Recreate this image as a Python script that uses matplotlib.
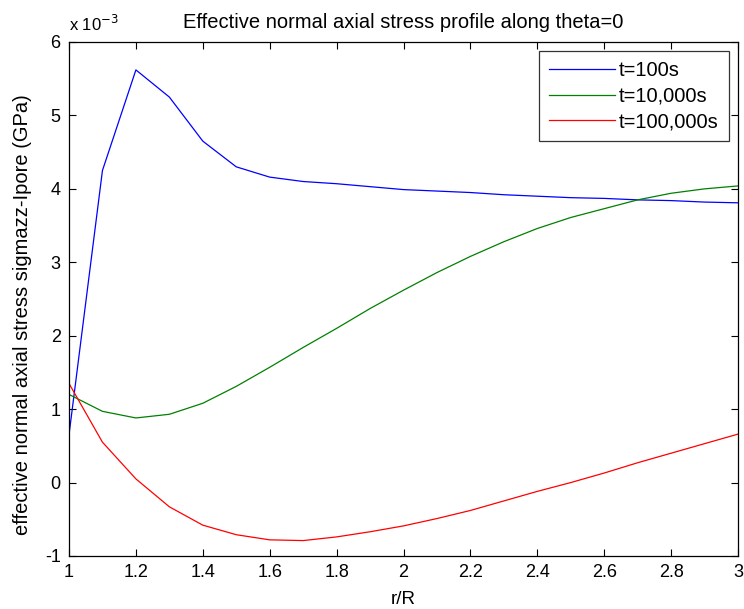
import matplotlib
matplotlib.use("Agg")
import matplotlib.pyplot as plt
import numpy as np

# r/R sampled every 0.1
r = np.round(np.arange(1.0, 3.01, 0.1), 2)

# stresses in units of 1e-3 GPa
t100 = [0.65, 4.25, 5.62, 5.25, 4.65, 4.30, 4.16, 4.10, 4.07, 4.03, 3.99,
        3.97, 3.95, 3.92, 3.90, 3.88, 3.87, 3.85, 3.84, 3.82, 3.81]
t10k = [1.20, 0.97, 0.88, 0.93, 1.08, 1.31, 1.57, 1.84, 2.10, 2.37, 2.62,
        2.86, 3.08, 3.28, 3.46, 3.61, 3.73, 3.85, 3.94, 4.00, 4.04]
t100k = [1.35, 0.55, 0.05, -0.33, -0.58, -0.71, -0.78, -0.79, -0.74, -0.67, -0.59,
         -0.49, -0.38, -0.25, -0.12, 0.00, 0.13, 0.27, 0.40, 0.53, 0.66]
labels = ["t=100s", "t=10,000s", "t=100,000s"]
colors = ["#0000ff", "#008000", "#ff0000"]

plt.rcParams["font.family"] = ["Liberation Sans", "DejaVu Sans"]
plt.rcParams["axes.unicode_minus"] = False

fig = plt.figure(figsize=(7.44, 6.09), dpi=100)
ax = fig.add_axes([69 / 744, 1 - 556 / 609, 669 / 744, 514 / 609])

for y, lab, c in zip([t100, t10k, t100k], labels, colors):
    ax.plot(r, y, color=c, lw=0.9, label=lab)

ax.set_xlim(1, 3)
ax.set_ylim(-1, 6)
ax.set_xticks(np.round(np.arange(1, 3.01, 0.2), 1))
ax.set_xticklabels(["1", "1.2", "1.4", "1.6", "1.8", "2", "2.2", "2.4", "2.6", "2.8", "3"])
ax.set_yticks(range(-1, 7))
ax.tick_params(direction="in", top=True, right=True, length=5, width=0.8,
               labelsize=13, pad=6)
for s in ax.spines.values():
    s.set_linewidth(0.9)

ax.set_xlabel("r/R", fontsize=13.5)
ax.xaxis.set_label_coords(0.5, -0.068)
ax.set_ylabel("effective normal axial stress sigmazz-Ipore (GPa)", fontsize=14.5)
ax.yaxis.set_label_coords(-0.055, 0.47)
ax.set_title("Effective normal axial stress profile along theta=0", fontsize=14.5, pad=10)
ax.text(0.0, 1.015, r"x 10$^{-3}$", transform=ax.transAxes, fontsize=12,
        ha="left", va="bottom")

leg = ax.legend(loc="upper right", fontsize=14.5, frameon=True, fancybox=False,
                edgecolor="black", borderaxespad=0.45, handlelength=3.3,
                handletextpad=0.2, labelspacing=0.32, borderpad=0.5)
leg.get_frame().set_linewidth(0.9)

fig.savefig("out.png", dpi=100, facecolor="white")
